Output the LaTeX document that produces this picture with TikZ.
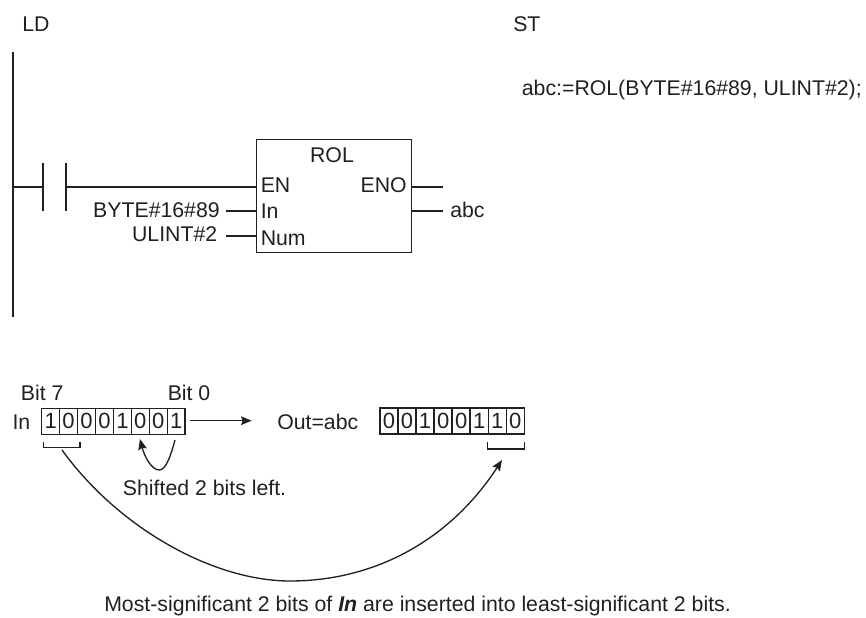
\documentclass[tikz,border=0pt]{standalone}
\usepackage{fontspec}
\setmainfont{Liberation Sans}
\usetikzlibrary{arrows.meta}
\definecolor{ink}{HTML}{231F20}
\tikzset{
  lbl/.style={inner sep=0pt,text=ink,font=\fontsize{15.95}{18}\selectfont},
  wire/.style={draw=ink,line width=1pt},
  thin/.style={draw=ink,line width=1pt},
  rail/.style={draw=ink,line width=1.8pt},
  bitcell/.style={draw=ink,line width=1pt,minimum width=13.45pt,minimum height=19.5pt,inner sep=0pt,text=ink,font=\fontsize{16.5}{18}\selectfont},
  tip/.style={-{Stealth[length=8pt,width=6.5pt,inset=1.2pt]}}
}
\begin{document}
\begin{tikzpicture}[x=0.75pt,y=-0.75pt]
\useasboundingbox (0,0) rectangle (866,617);
\node[lbl,anchor=base west] (ld) at (22,31.7) {LD};
\node[lbl,anchor=base west] (st) at (513,31.7) {ST};
\node[lbl,anchor=base east] (code) at (862,95) {abc:=ROL(BYTE\#16\#89, ULINT\#2);};
% ladder
\coordinate (rt) at (13,52);
\coordinate (rb) at (13,317);
\coordinate (rj) at (13,187);
\draw[rail] (rt) -- (rb);
\coordinate (c1t) at (43,163); \coordinate (c1b) at (43,211);
\coordinate (c2t) at (66,163); \coordinate (c2b) at (66,211);
\coordinate (c1m) at (43,187); \coordinate (c2m) at (66,187);
\draw[wire] (c1t) -- (c1b);
\draw[wire] (c2t) -- (c2b);
\node[draw=ink,line width=1pt,minimum width=116.2pt,minimum height=85pt,inner sep=0pt] (fb) at (334.2,196) {};
\coordinate (enp) at (256.7,187); \coordinate (inp) at (256.7,211); \coordinate (nump) at (256.7,236);
\coordinate (enop) at (411.7,187); \coordinate (outp) at (411.7,211);
\coordinate (enoe) at (443,187); \coordinate (oute) at (443,211);
\coordinate (ine) at (226,211); \coordinate (nume) at (226,236);
\draw[wire] (rj) -- (c1m);
\draw[wire] (c2m) -- (enp);
\draw[wire] (ine) -- (inp);
\draw[wire] (nume) -- (nump);
\draw[wire] (enop) -- (enoe);
\draw[wire] (outp) -- (oute);
\node[lbl,anchor=base] (rol) at (332,162.7) {ROL};
\node[lbl,anchor=base west] (en) at (260.5,192.7) {EN};
\node[lbl,anchor=base west] (inl) at (260.5,218) {In};
\node[lbl,anchor=base west] (numl) at (260.5,245) {Num};
\node[lbl,anchor=base east] (eno) at (407,192.7) {ENO};
\node[lbl,anchor=base west] (abc) at (450,217) {abc};
\node[lbl,anchor=base east] (byte) at (220,217.5) {BYTE\#16\#89};
\node[lbl,anchor=base east] (ulint) at (217.5,241.5) {ULINT\#2};
% bit rows
\node[lbl,anchor=base west] (b7) at (20.7,400) {Bit 7};
\node[lbl,anchor=base west] (b0) at (167.5,400) {Bit 0};
\node[lbl,anchor=base west] (inrow) at (12.3,429.5) {In};
\node[lbl,anchor=base west] (outrow) at (277,429.5) {Out=abc};
\foreach \v [count=\i] in {1,0,0,0,1,0,0,1}
  \node[bitcell] (a\i) at ({41.7+17.93*(\i-0.5)},421.2) {\v};
\foreach \v [count=\i] in {0,0,1,0,0,1,1,0}
  \node[bitcell] (o\i) at ({380+18.04*(\i-0.5)},421) {\v};
\coordinate (as) at (190,420.7);
\coordinate (ae) at (251.7,420.7);
\draw[thin,tip] (as) -- (ae);
% brackets
\coordinate (bl1) at (43.3,441.5); \coordinate (bl2) at (43.3,447.5);
\coordinate (bl3) at (80,447.5); \coordinate (bl4) at (80,441.5);
\draw[thin] (bl1) -- (bl2) -- (bl3) -- (bl4);
\coordinate (br1) at (487.7,441.5); \coordinate (br2) at (487.7,449);
\coordinate (br3) at (524.3,449); \coordinate (br4) at (524.3,441.5);
\draw[thin] (br1) -- (br2) -- (br3) -- (br4);
% curves
\coordinate (ss) at (175,440);
\coordinate (sm) at (159.3,470);
\coordinate (se) at (140,439);
\draw[thin,tip] (ss) .. controls (171,455) and (166,470) .. (sm) .. controls (151,470) and (144,455) .. (se);
\coordinate (ls) at (62,450);
\coordinate (lm) at (290,581);
\coordinate (le) at (502,460);
\draw[thin,tip] (ls) .. controls (120,530) and (215,581) .. (lm) .. controls (375,581) and (450,540) .. (le);
\node[lbl,anchor=base west] (shift) at (122.7,495) {Shifted 2 bits left.};
\node[lbl,anchor=base west] (cap) at (104,611.5) {Most-significant 2 bits of \textbf{\textit{In}} are inserted into least-significant 2 bits.};
\end{tikzpicture}
\end{document}
